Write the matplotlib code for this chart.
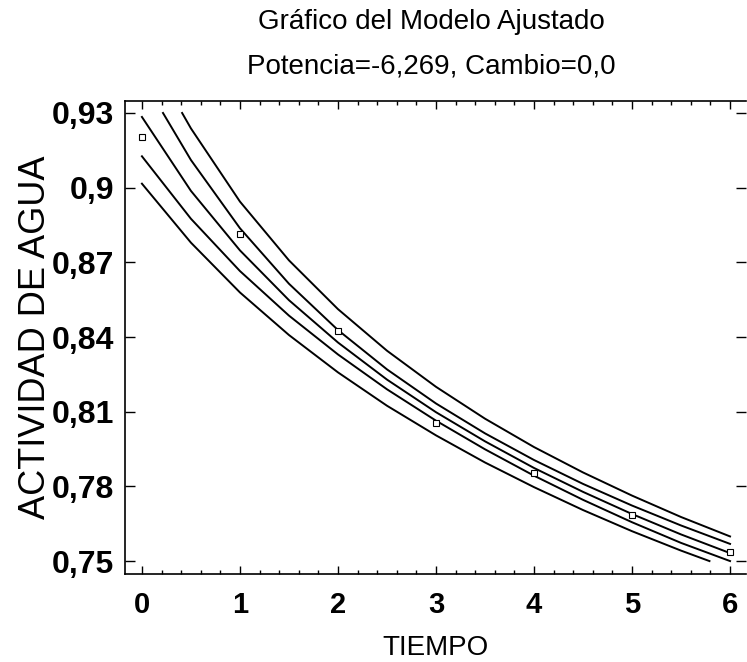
import matplotlib
matplotlib.use("Agg")
import matplotlib.pyplot as plt
from matplotlib.ticker import MultipleLocator

plt.rcParams['font.family'] = ['Liberation Sans', 'DejaVu Sans']

# datos observados
tiempo = [0, 1, 2, 3, 4, 5, 6]
actividad = [0.9204, 0.8814, 0.8424, 0.8055, 0.7854, 0.7685, 0.7536]

# curvas (ajuste, limites de confianza y de prediccion)
x_full = [0, 0.5, 1, 1.5, 2, 2.5, 3, 3.5, 4, 4.5, 5, 5.5, 6]
y_ajuste = [0.9284, 0.8987, 0.8748, 0.8548, 0.8378, 0.8229, 0.8098,
            0.7981, 0.7874, 0.7778, 0.7689, 0.7607, 0.7532]
y_conf_inf = [0.9126, 0.8875, 0.8665, 0.8486, 0.8330, 0.8190, 0.8064,
              0.7949, 0.7843, 0.7746, 0.7656, 0.7573, 0.7500]

x_conf_sup = [0.215, 0.5, 1, 1.5, 2, 2.5, 3, 3.5, 4, 4.5, 5, 5.5, 6]
y_conf_sup = [0.9300, 0.9111, 0.8837, 0.8614, 0.8428, 0.8270, 0.8133,
              0.8013, 0.7906, 0.7810, 0.7723, 0.7643, 0.7569]

x_pred_sup = [0.41, 0.5, 1, 1.5, 2, 2.5, 3, 3.5, 4, 4.5, 5, 5.5, 6]
y_pred_sup = [0.9300, 0.9238, 0.8944, 0.8708, 0.8512, 0.8345, 0.8200,
              0.8072, 0.7958, 0.7856, 0.7763, 0.7677, 0.7599]

x_pred_inf = [0, 0.5, 1, 1.5, 2, 2.5, 3, 3.5, 4, 4.5, 5, 5.5, 5.79]
y_pred_inf = [0.9016, 0.8779, 0.8579, 0.8408, 0.8258, 0.8124, 0.8005,
              0.7896, 0.7797, 0.7705, 0.7620, 0.7542, 0.7500]

xticks = [0, 1, 2, 3, 4, 5, 6]
yticks = [0.75, 0.78, 0.81, 0.84, 0.87, 0.90, 0.93]
ytick_labels = ["0,75", "0,78", "0,81", "0,84", "0,87", "0,9", "0,93"]

fig = plt.figure(figsize=(7.47, 6.62), dpi=100)
ax = fig.add_axes([0.1673, 0.1329, 0.8314, 0.7145])

for xs, ys in [(x_pred_sup, y_pred_sup), (x_conf_sup, y_conf_sup),
               (x_full, y_ajuste), (x_full, y_conf_inf),
               (x_pred_inf, y_pred_inf)]:
    ax.plot(xs, ys, color='black', lw=1.4)

ax.plot(tiempo, actividad, linestyle='none', marker='s', markersize=4,
        markerfacecolor='white', markeredgecolor='black', markeredgewidth=0.8)

ax.set_xlim(-0.173, 6.163)
ax.set_ylim(0.7448, 0.9348)

ax.set_xticks(xticks)
ax.set_xticklabels([str(t) for t in xticks], fontsize=21, fontweight='bold')
ax.xaxis.set_minor_locator(MultipleLocator(0.2))
ax.set_yticks(yticks)
ax.set_yticklabels(ytick_labels, fontsize=23, fontweight='bold')

ax.tick_params(which='both', direction='in', top=True, right=True, width=1)
ax.tick_params(axis='x', which='major', length=6, pad=12)
ax.tick_params(axis='x', which='minor', length=3)
ax.tick_params(axis='y', which='major', length=7, pad=8)

for s in ax.spines.values():
    s.set_linewidth(1.2)
ax.spines['right'].set_visible(False)

ax.set_xlabel("TIEMPO", fontsize=20, labelpad=12)
ax.set_ylabel("ACTIVIDAD DE AGUA", fontsize=26, labelpad=-1)

fig.text(0.577, 0.967, "Gráfico del Modelo Ajustado", fontsize=20,
         ha='center', va='center')
fig.text(0.577, 0.899, "Potencia=-6,269, Cambio=0,0", fontsize=20,
         ha='center', va='center')

fig.savefig("out.png", dpi=100)
